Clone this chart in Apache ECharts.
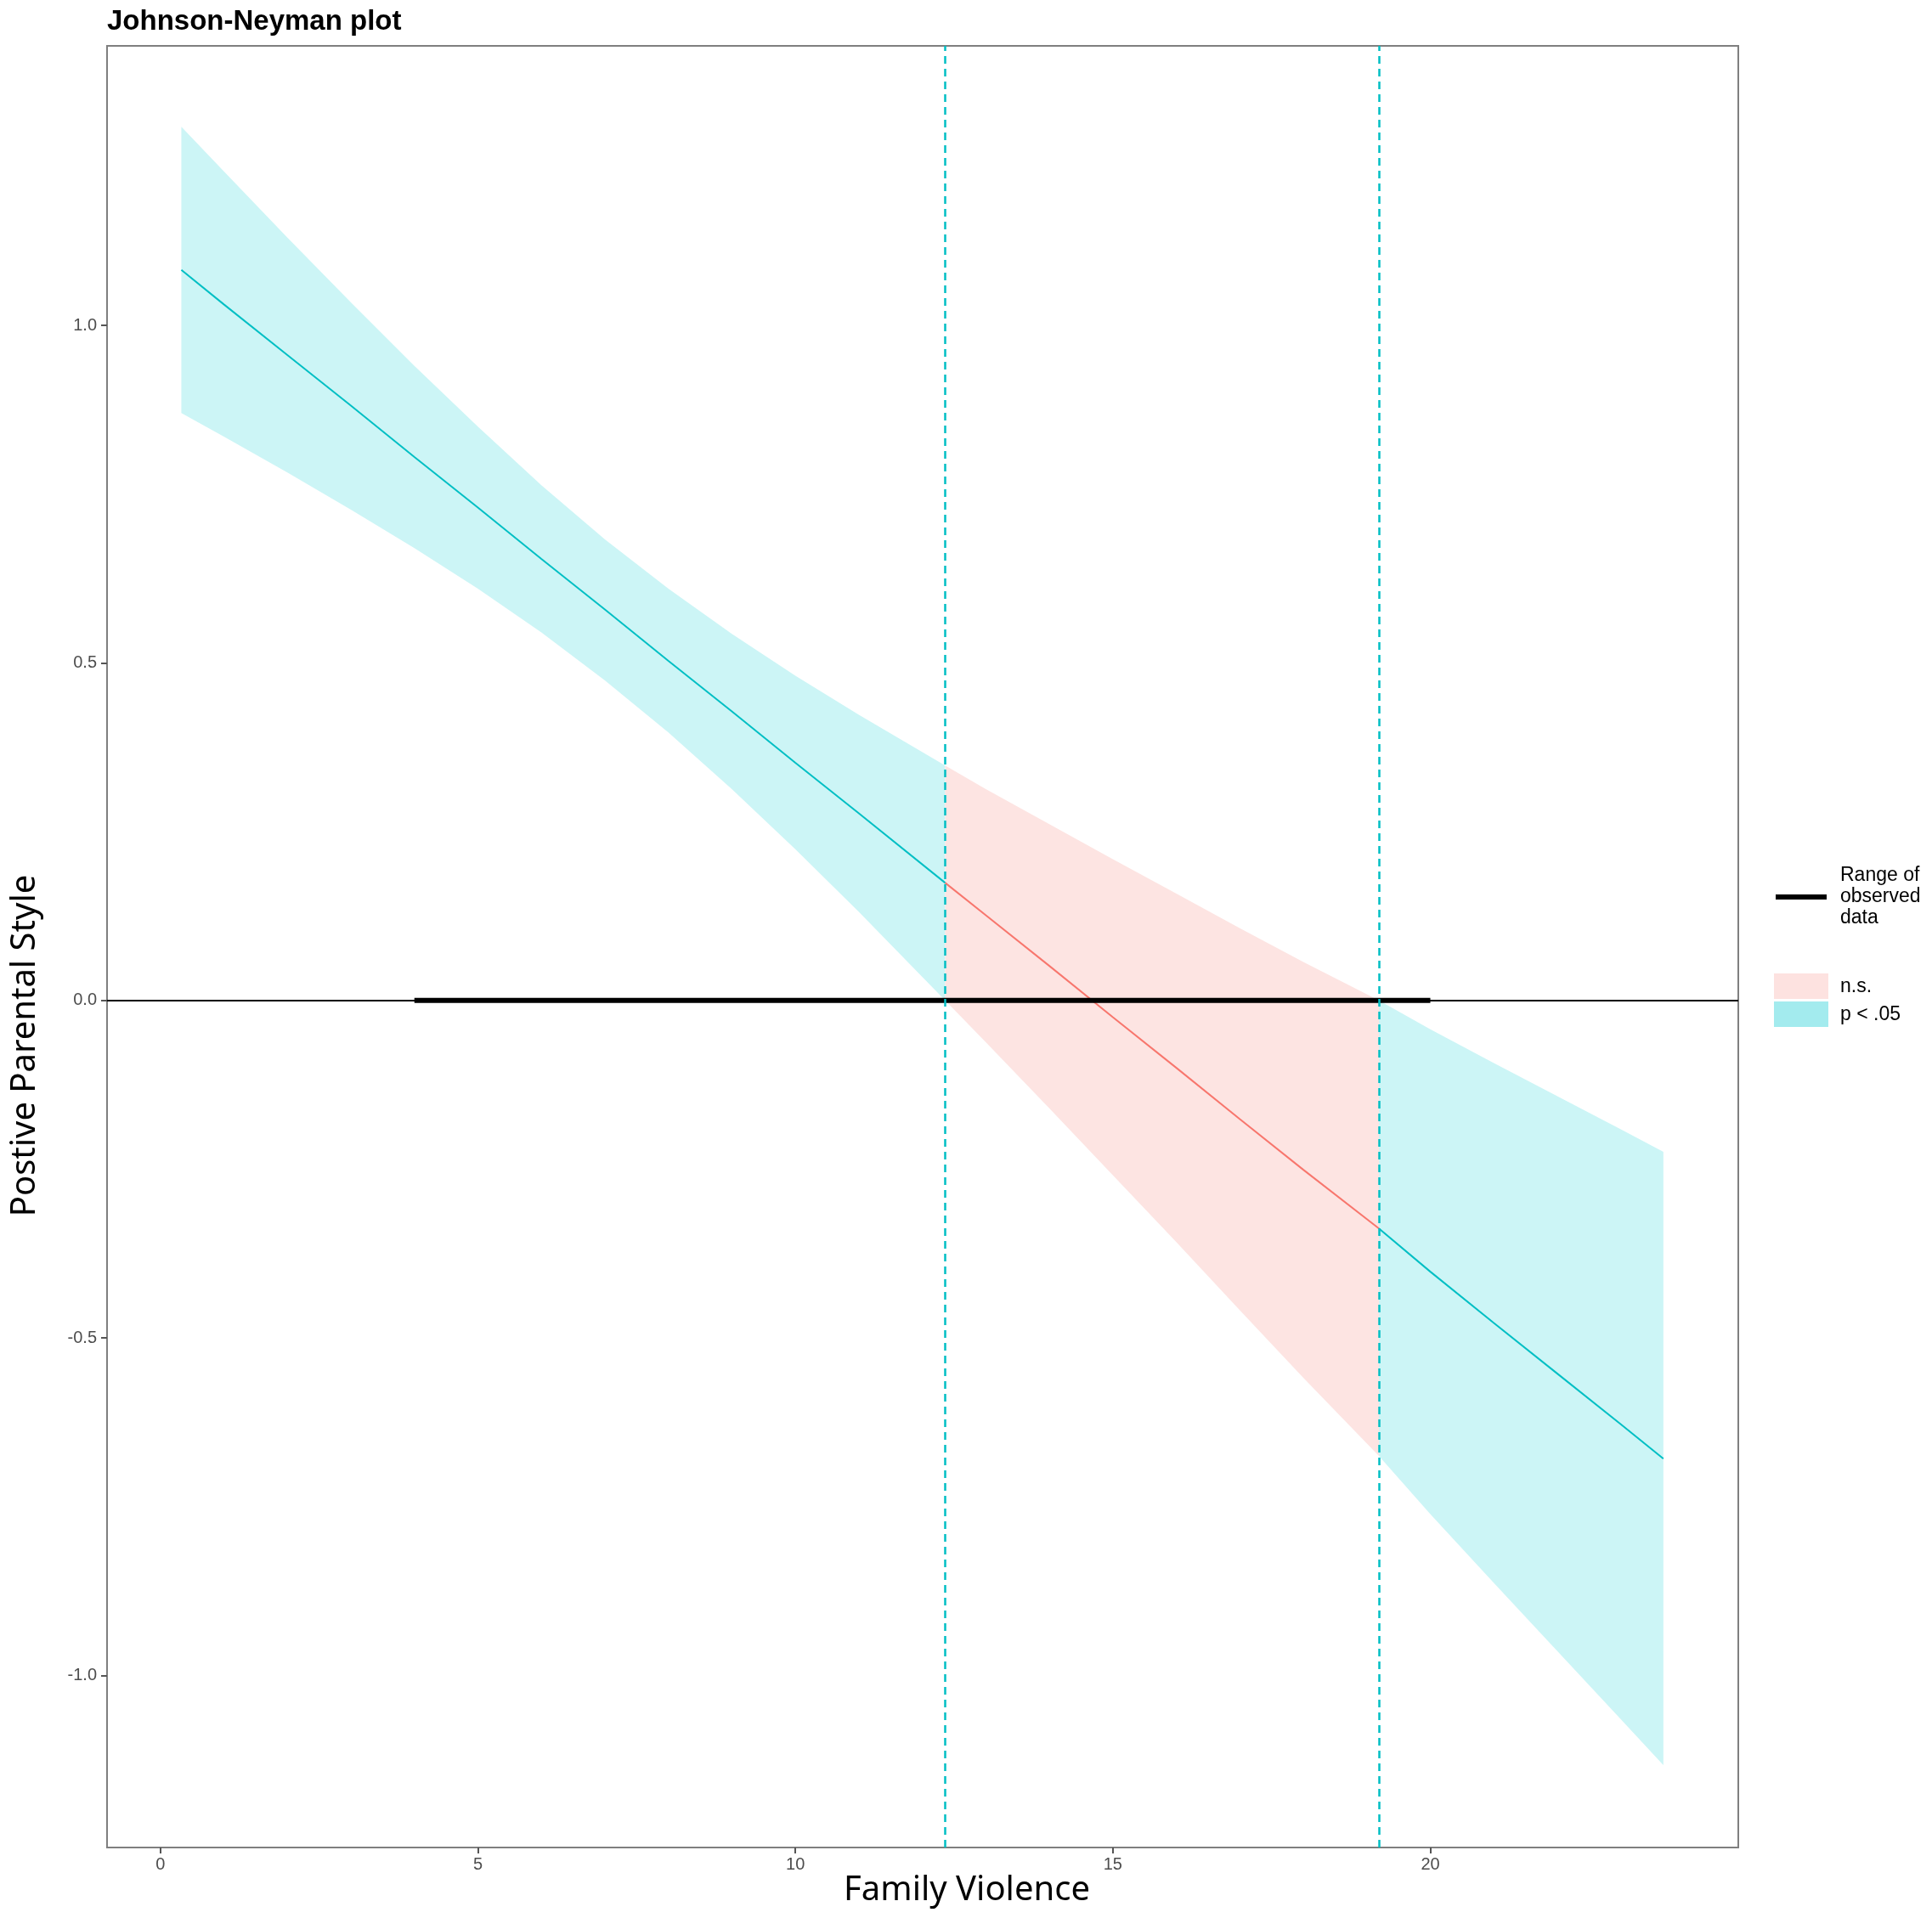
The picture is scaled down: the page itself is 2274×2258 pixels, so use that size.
<!DOCTYPE html>
<html>
<head>
<meta charset="utf-8">
<script src="https://cdn.jsdelivr.net/npm/echarts@6/dist/echarts.min.js"></script>
<style>
html, body { margin: 0; padding: 0; background: #fff; }
#chart { width: 2274px; height: 2258px; }
</style>
</head>
<body>
<div id="chart"></div>
<script>
// values
var leftX = [0.33, 1, 2, 3, 4, 5, 6, 7, 8, 9, 10, 11, 12.36];
var leftFit = [1.082, 1.031, 0.956, 0.881, 0.805, 0.730, 0.654, 0.579, 0.503, 0.428, 0.352, 0.277, 0.174];
var leftLo = [0.870, 0.835, 0.782, 0.727, 0.670, 0.610, 0.545, 0.474, 0.397, 0.313, 0.224, 0.131, 0];
var leftHi = [1.294, 1.228, 1.130, 1.034, 0.940, 0.850, 0.763, 0.683, 0.610, 0.543, 0.481, 0.423, 0.348];

var midX = [12.36, 13, 14, 15, 16, 17, 18, 19.19];
var midFit = [0.174, 0.126, 0.051, -0.025, -0.100, -0.176, -0.251, -0.338];
var midLo = [0, -0.062, -0.160, -0.259, -0.358, -0.459, -0.559, -0.675];
var midHi = [0.348, 0.313, 0.261, 0.209, 0.158, 0.107, 0.057, 0];

var rightX = [19.19, 20, 21, 22, 23, 23.67];
var rightFit = [-0.338, -0.402, -0.478, -0.553, -0.628, -0.679];
var rightLo = [-0.675, -0.761, -0.863, -0.964, -1.065, -1.133];
var rightHi = [0, -0.043, -0.093, -0.142, -0.191, -0.2245];

var jnBounds = [12.36, 19.19];
var observedRange = [4, 20];
var xTicks = [0, 5, 10, 15, 20];
var yTicks = [-1, -0.5, 0, 0.5, 1];

var teal = '#00BFC4';
var red = '#F8766D';

var chart = echarts.init(document.getElementById('chart'));

function pairs(xs, ys) {
    return xs.map(function (x, i) { return [x, ys[i]]; });
}

function band(xs, lo, hi, color) {
    return {
        type: 'custom',
        silent: true,
        z: 1,
        data: xs.map(function (x, i) { return [x, lo[i], hi[i]]; }),
        encode: { x: 0, y: [1, 2] },
        renderItem: function (params, api) {
            if (params.dataIndex !== 0) return;
            var pts = [];
            for (var i = 0; i < xs.length; i++) pts.push(api.coord([xs[i], hi[i]]));
            for (var j = xs.length - 1; j >= 0; j--) pts.push(api.coord([xs[j], lo[j]]));
            return { type: 'polygon', shape: { points: pts }, style: { fill: color } };
        }
    };
}

function fitLine(xs, ys, color) {
    return {
        type: 'line',
        data: pairs(xs, ys),
        showSymbol: false,
        silent: true,
        z: 3,
        lineStyle: { color: color, width: 2 }
    };
}

var tickFont = { color: '#4d4d4d', fontSize: 20, fontFamily: 'Liberation Sans' };

var option = {
    animation: false,
    backgroundColor: '#fff',
    grid: {
        left: 126, right: 228, top: 54, bottom: 83,
        show: true, borderColor: '#7f7f7f', borderWidth: 2, backgroundColor: '#fff'
    },
    xAxis: {
        type: 'value',
        min: -0.84,
        max: 24.85,
        splitLine: { show: false },
        axisLine: { show: false, onZero: false },
        axisTick: { customValues: xTicks, length: 7, lineStyle: { color: '#555', width: 2 } },
        axisLabel: Object.assign({ customValues: xTicks, margin: 10 }, tickFont)
    },
    yAxis: {
        type: 'value',
        min: -1.255,
        max: 1.414,
        splitLine: { show: false },
        axisLine: { show: false, onZero: false },
        axisTick: { customValues: yTicks, length: 7, lineStyle: { color: '#555', width: 2 } },
        axisLabel: Object.assign({
            customValues: yTicks,
            margin: 12,
            formatter: function (v) { return v.toFixed(1); }
        }, tickFont)
    },
    series: [
        band(leftX, leftLo, leftHi, '#CCF5F6'),
        band(midX, midLo, midHi, '#FDE4E2'),
        band(rightX, rightLo, rightHi, '#CCF5F6'),
        fitLine(leftX, leftFit, teal),
        fitLine(midX, midFit, red),
        fitLine(rightX, rightFit, teal),
        {
            // range of observed data + zero line
            type: 'line',
            data: [[observedRange[0], 0], [observedRange[1], 0]],
            showSymbol: false,
            silent: true,
            z: 4,
            lineStyle: { color: '#000', width: 6 },
            markLine: {
                silent: true,
                symbol: ['none', 'none'],
                label: { show: false },
                lineStyle: { color: '#000', width: 2, type: 'solid' },
                data: [{ yAxis: 0 }]
            }
        },
        {
            type: 'line',
            data: [],
            markLine: {
                silent: true,
                symbol: ['none', 'none'],
                label: { show: false },
                lineStyle: { color: teal, width: 2.5, type: [9, 6] },
                data: jnBounds.map(function (b) { return { xAxis: b }; })
            }
        }
    ],
    graphic: [
        {
            type: 'text', x: 126, y: 26,
            style: { text: 'Johnson-Neyman plot', fill: '#000', font: 'bold 33px "Liberation Sans"', align: 'left', verticalAlign: 'middle' }
        },
        {
            type: 'text', x: 1138, y: 2226,
            style: { text: 'Family Violence', fill: '#000', font: '40px "Noto Sans"', align: 'center', verticalAlign: 'middle' }
        },
        {
            type: 'text', x: 30, y: 1231, rotation: Math.PI / 2,
            style: { text: 'Postive Parental Style', fill: '#000', font: '40px "Noto Sans"', align: 'center', verticalAlign: 'middle' }
        },
        // legend
        {
            type: 'line', shape: { x1: 2090, y1: 1056, x2: 2150, y2: 1056 },
            style: { stroke: '#000', lineWidth: 6 }
        },
        {
            type: 'text', x: 2166, y: 1056,
            style: { text: 'Range of\nobserved\ndata', fill: '#000', font: '23px "Liberation Sans"', lineHeight: 25, align: 'left', verticalAlign: 'middle' }
        },
        {
            type: 'rect', shape: { x: 2088, y: 1146, width: 64, height: 30 },
            style: { fill: '#FDE2E0' }
        },
        {
            type: 'rect', shape: { x: 2088, y: 1179, width: 64, height: 30 },
            style: { fill: '#A3EBEE' }
        },
        {
            type: 'text', x: 2166, y: 1162,
            style: { text: 'n.s.', fill: '#000', font: '23px "Liberation Sans"', align: 'left', verticalAlign: 'middle' }
        },
        {
            type: 'text', x: 2166, y: 1195,
            style: { text: 'p < .05', fill: '#000', font: '23px "Liberation Sans"', align: 'left', verticalAlign: 'middle' }
        }
    ]
};

chart.setOption(option);
</script>
</body>
</html>
